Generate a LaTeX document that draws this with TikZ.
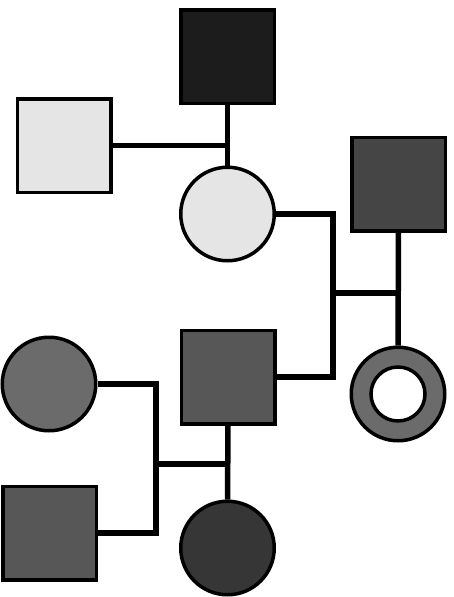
\documentclass[tikz,border=0pt]{standalone}
\begin{document}
\begin{tikzpicture}[x=1pt,y=-1pt,
  sq/.style={draw=black,line width=3.5pt,minimum size=93.5pt,inner sep=0pt,rectangle},
  ci/.style={draw=black,line width=3.5pt,minimum size=93.5pt,inner sep=0pt,circle},
  link/.style={line width=5.5pt,line join=miter}]
\useasboundingbox (0,0) rectangle (453,597);
\definecolor{vlight}{gray}{0.90}
\definecolor{vdark}{gray}{0.11}
\definecolor{dgray}{gray}{0.27}
\definecolor{mgray}{gray}{0.34}
\definecolor{lgray}{gray}{0.42}
\definecolor{cdark}{gray}{0.21}
\node[sq,fill=vdark] (ts) at (227.5,56.5) {};
\node[sq,fill=vlight] (ls) at (64,145.5) {};
\node[ci,fill=vlight] (c1) at (227.5,214) {};
\node[sq,fill=dgray] (rs) at (398.5,184) {};
\node[ci,fill=lgray] (lc) at (49,384) {};
\node[sq,fill=mgray] (ms) at (228,377) {};
\node[ci,fill=lgray] (rg) at (398,394) {};
\node[ci,fill=white,minimum size=54pt] (rgi) at (398,394) {};
\node[sq,fill=mgray] (bs) at (49.5,533) {};
\node[ci,fill=cdark] (bc) at (227.5,548) {};
\coordinate (j) at (333,293);
\coordinate (k) at (156,464);
\draw[link] (ts) -- (c1);
\draw[link] (ls.east) -- (ls.east -| ts);
\draw[link] (c1.east) -| (j) |- (ms.east);
\draw[link] (j) -- (j -| rs);
\draw[link] (rs) -- (rg);
\draw[link] (lc.east) -| (k) |- (bs.east);
\draw[link] (k) -- (k -| ms);
\draw[link] (ms) -- (bc);
\end{tikzpicture}
\end{document}
